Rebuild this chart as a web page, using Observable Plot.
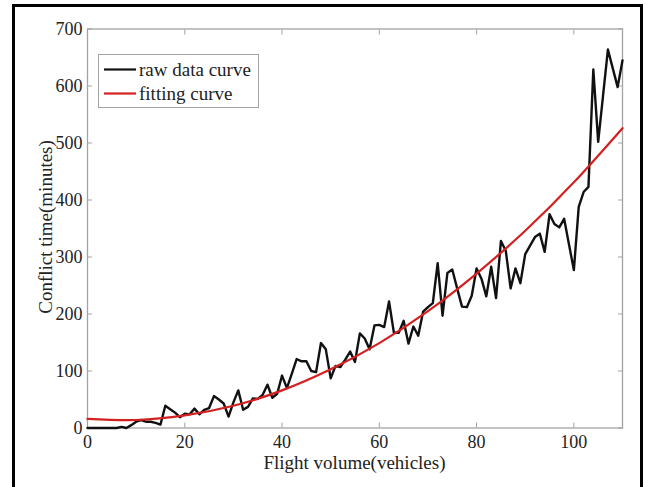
<!DOCTYPE html>
<html>
<head>
<meta charset="utf-8">
<script src="https://cdn.jsdelivr.net/npm/d3@7"></script>
<script src="https://cdn.jsdelivr.net/npm/@observablehq/plot@0.6"></script>
<style>
  html, body { margin: 0; padding: 0; background: #fff; width: 645px; height: 487px; overflow: hidden; }
  #wrap { position: relative; width: 645px; height: 487px; }
  #wrap svg { position: absolute; left: 0; top: 0; }
  #border { position: absolute; left: 12px; top: 4px; width: 631px; height: 600px; border: 3px solid #000; box-sizing: border-box; }
</style>
</head>
<body>
<div id="wrap"><div id="border"></div></div>
<script>
// Raw data: conflict time (minutes) for flight volume 0..110 (index = vehicles)
const rawY = [
  0, 0, 0, 0, 0, 0, 0, 2, 0, 5,
  11, 14, 11, 11, 9, 6, 39, 33, 27, 19,
  25, 24, 34, 24, 32, 35, 56, 50, 43, 20,
  45, 66, 32, 37, 52, 51, 58, 76, 53, 60,
  92, 70, 95, 121, 117, 117, 100, 98, 149, 138,
  87, 109, 107, 120, 134, 116, 166, 157, 138, 180,
  181, 177, 222, 167, 167, 188, 148, 178, 162, 204,
  212, 219, 289, 197, 272, 278, 245, 213, 212, 232,
  280, 262, 231, 283, 228, 328, 311, 245, 280, 254,
  305, 320, 335, 341, 309, 375, 358, 352, 367, 322,
  277, 388, 414, 423, 629, 502, 583, 664, 631, 598,
  645
];
// Fitting curve, read at every 10 vehicles
const fitX = [0, 10, 20, 30, 40, 50, 60, 70, 80, 90, 100, 110];
const fitY = [16, 14, 22, 39, 66, 103, 149, 205, 271, 346, 431, 526];
const xTicks = [0, 20, 40, 60, 80, 100];
const yTicks = [0, 100, 200, 300, 400, 500, 600, 700];
const xTitle = "Flight volume(vehicles)";
const yTitle = "Conflict time(minutes)";
const seriesNames = ["raw data curve", "fitting curve"];
const seriesColors = ["#111111", "#d42020"];

const raw = rawY.map((y, i) => ({x: i, y}));
const fit = fitX.map((x, i) => ({x, y: fitY[i]}));

const axisColor = "#a3a3a3";
const font = "'Liberation Serif', 'Times New Roman', serif";

const chart = Plot.plot({
  width: 645,
  height: 487,
  marginLeft: 87,
  marginRight: 23,
  marginTop: 28.5,
  marginBottom: 59.5,
  x: {domain: [0, 110]},
  y: {domain: [0, 700]},
  style: {fontFamily: font, fontSize: "18px", color: "#222", background: "transparent"},
  marks: [
    Plot.axisX(xTicks, {anchor: "bottom", tickSize: 5, dy: -5, fill: "none", stroke: axisColor, label: null}),
    Plot.axisX(xTicks, {anchor: "top", tickSize: 5, dy: 5, fill: "none", stroke: axisColor, label: null}),
    Plot.axisY(yTicks, {anchor: "left", tickSize: 5, dx: 5, fill: "none", stroke: axisColor, label: null}),
    Plot.axisY(yTicks, {anchor: "right", tickSize: 5, dx: -5, fill: "none", stroke: axisColor, label: null}),
    Plot.axisX(xTicks, {anchor: "bottom", tickSize: 0, tickPadding: 7, label: null, fontSize: 18, fill: "#222"}),
    Plot.axisY(yTicks, {anchor: "left", tickSize: 0, tickPadding: 5, label: null, fontSize: 18, fill: "#222"}),
    Plot.frame({stroke: axisColor, strokeWidth: 1.3}),
    Plot.line(raw, {x: "x", y: "y", stroke: seriesColors[0], strokeWidth: 2.4}),
    Plot.line(fit, {x: "x", y: "y", stroke: seriesColors[1], strokeWidth: 2.2, curve: "natural"})
  ]
});

document.getElementById("wrap").appendChild(chart);

const svg = d3.select(chart);
// axis titles
svg.append("text")
  .attr("x", 354.5).attr("y", 469)
  .attr("text-anchor", "middle")
  .attr("font-family", font).attr("font-size", 19).attr("fill", "#222")
  .text(xTitle);
svg.append("text")
  .attr("transform", "translate(45,227) rotate(-90)")
  .attr("text-anchor", "middle").attr("dominant-baseline", "central")
  .attr("font-family", font).attr("font-size", 19).attr("fill", "#222")
  .text(yTitle);

// legend
const lg = svg.append("g");
lg.append("rect").attr("x", 98.5).attr("y", 54.5).attr("width", 160).attr("height", 53)
  .attr("fill", "#fff").attr("stroke", axisColor).attr("stroke-width", 1);
seriesNames.forEach((name, i) => {
  const cy = 69.5 + i * 24;
  lg.append("line").attr("x1", 104).attr("x2", 136).attr("y1", cy).attr("y2", cy)
    .attr("stroke", seriesColors[i]).attr("stroke-width", 2.2);
  lg.append("text").attr("x", 139).attr("y", cy + 6)
    .attr("text-anchor", "start")
    .attr("font-family", font).attr("font-size", 19).attr("fill", "#222")
    .text(name);
});
</script>
</body>
</html>
